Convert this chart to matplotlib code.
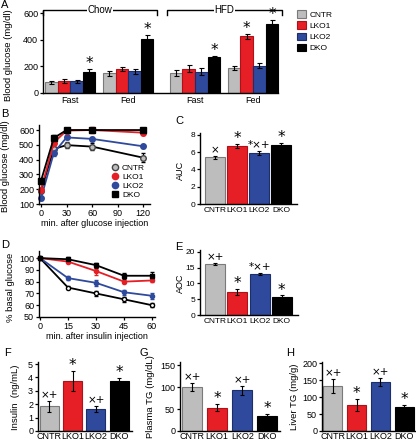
import matplotlib
matplotlib.use("Agg")
import matplotlib.pyplot as plt
from matplotlib.patches import Patch
from matplotlib.lines import Line2D
from matplotlib import font_manager as fm
import numpy as np

plt.rcParams['font.family'] = ['Liberation Sans', 'DejaVu Sans']
names = {f.name for f in fm.fontManager.ttflist}
NARROW = 'Liberation Sans Narrow' if 'Liberation Sans Narrow' in names else 'Liberation Sans'

# ---------------- data ----------------
groups = ["CNTR", "LKO1", "LKO2", "DKO"]
colors = ["#bdbdbd", "#e61e25", "#2f4a9c", "#000000"]
edges = ["#7a7a7a", "#b01018", "#1d2f6a", "#000000"]

# Panel A
a_conditions = ["Fast", "Fed", "Fast", "Fed"]
a_diets = ["Chow", "HFD"]
a_vals = {"CNTR": [80, 148, 148, 190],
          "LKO1": [92, 178, 183, 428],
          "LKO2": [90, 162, 160, 205],
          "DKO": [160, 410, 268, 522]}
a_errs = {"CNTR": [12, 18, 22, 14],
          "LKO1": [14, 15, 28, 18],
          "LKO2": [11, 20, 26, 18],
          "DKO": [18, 25, 14, 28]}
a_stars = {"LKO1": [False, False, False, True],
           "DKO": [True, True, True, True]}
a_ticks = [0, 200, 400, 600]

# Panel B (GTT)
b_time = [0, 15, 30, 60, 120]
b_vals = {"CNTR": [190, 472, 498, 488, 413],
          "LKO1": [198, 515, 596, 600, 582],
          "LKO2": [140, 445, 550, 540, 490],
          "DKO": [258, 546, 600, 600, 600]}
b_errs = {"CNTR": [12, 15, 18, 25, 30],
          "LKO1": [10, 20, 15, 20, 15],
          "LKO2": [10, 20, 12, 10, 12],
          "DKO": [12, 22, 12, 10, 12]}

# Panel C (AUC)
c_vals = [5.4, 6.7, 5.9, 6.8]
c_errs = [0.15, 0.25, 0.2, 0.25]
c_marks = ["×", "*", "*×+", "*"]

# Panel D (ITT)
d_time = [0, 15, 30, 45, 60]
d_vals = {"CNTR": [100, 75, 70, 65, 60],
          "LKO1": [100, 97, 89, 80, 81],
          "LKO2": [100, 83, 79, 71, 68],
          "DKO": [100, 99, 94, 85, 85]}
d_errs = {"CNTR": [0.5, 1.5, 2, 2, 1.5],
          "LKO1": [0.5, 1.5, 3, 1.5, 1.5],
          "LKO2": [0.5, 2, 2.5, 2, 2.5],
          "DKO": [0.5, 1.5, 2, 2.5, 3.5]}

# Panel E (AOC)
e_vals = [16.2, 7.2, 13.0, 5.8]
e_errs = [0.4, 1.0, 0.4, 0.4]
e_marks = ["×+", "*", "*×+", "*"]

# Panel F (insulin)
f_vals = [1.85, 3.7, 1.65, 3.75]
f_errs = [0.4, 0.75, 0.25, 0.2]
f_marks = ["×+", "*", "×+", "*"]

# Panel G (plasma TG)
g_vals = [100, 53, 93, 35]
g_errs = [10, 8, 10, 4]
g_marks = ["×+", "*", "×+", "*"]

# Panel H (liver TG)
h_vals = [133, 77, 145, 70]
h_errs = [22, 18, 12, 6]
h_marks = ["×+", "*", "×+", "*"]

# ---------------- layout ----------------
W, H = 416, 443
fig = plt.figure(figsize=(W / 100, H / 100), dpi=100)


def fx(px):
    return px / W


def fy(py):
    return 1 - py / H


def axpx(l, t, r, b):
    return fig.add_axes([l / W, 1 - b / H, (r - l) / W, (b - t) / H])


def style(ax, fs=6):
    for s in ["top", "right"]:
        ax.spines[s].set_visible(False)
    for s in ["left", "bottom"]:
        ax.spines[s].set_linewidth(1.0)
    ax.tick_params(axis="both", direction="out", length=2.5, width=0.9,
                   labelsize=fs, pad=1)


def plabel(txt, x, y):
    fig.text(fx(x), fy(y), txt, fontsize=8, ha="left", va="center")


def ylab(ax, txt, x, ymid, fs=6.5):
    ax.set_ylabel(txt, fontsize=fs)
    ax.yaxis.set_label_coords(fx(x), fy(ymid), transform=fig.transFigure)


def mark(ax, x, y, txt):
    fs = 11 if txt == "*" else 7.5
    ax.annotate(txt, (x, y), xytext=(0, -1.5 if txt == "*" else 0.5),
                textcoords="offset points", ha="center", va="bottom",
                fontsize=fs, family=["DejaVu Sans"], clip_on=False)


def bar_panel(ax, vals, errs, marks, ylim, yticks, xlim, width, tick_fs=5.8, y_fs=6,
              xpad=2):
    x = np.arange(len(groups))
    ax.bar(x, vals, width=width, color=colors, edgecolor=edges, linewidth=0.8,
           yerr=errs, error_kw=dict(ecolor="black", elinewidth=0.8, capsize=1.5,
                                    capthick=0.8))
    for xi, v, e, m in zip(x, vals, errs, marks):
        mark(ax, xi, v + e, m)
    ax.set_ylim(*ylim)
    ax.set_yticks(yticks)
    ax.set_xlim(*xlim)
    ax.set_xticks(x)
    ax.set_xticklabels(groups, family=[NARROW, "DejaVu Sans"], fontsize=tick_fs)
    style(ax, fs=y_fs)
    ax.tick_params(axis="x", length=0, pad=xpad)


# ---------- Panel A ----------
axA = axpx(43, 11, 282, 93)
centers = [2.0, 6.6, 11.9, 16.5]
for i, g in enumerate(groups):
    xs = [c - 1.5 + i for c in centers]
    axA.bar(xs, a_vals[g], width=1.0, color=colors[i], edgecolor=edges[i],
            linewidth=0.8, yerr=a_errs[g],
            error_kw=dict(ecolor="black", elinewidth=0.8, capsize=1.8, capthick=0.8))
    if g in a_stars:
        for xx, v, e, s in zip(xs, a_vals[g], a_errs[g], a_stars[g]):
            if s:
                mark(axA, xx, v + e, "*")
axA.set_xlim(-0.16, 18.8)
axA.set_ylim(0, 617)
axA.set_yticks(a_ticks)
axA.set_xticks(centers)
axA.set_xticklabels(a_conditions, fontsize=7.5)
style(axA, fs=6.5)
axA.tick_params(axis="x", length=0, pad=2)
axA.spines["bottom"].set_bounds(-0.16, 18.5)
ylab(axA, "Blood glucose (mg/dl)", 13, 55, fs=6.8)

# brackets
for (l, r), name in zip([(43, 157), (167, 282)], a_diets):
    y0, y1 = 10, 15
    fig.add_artist(Line2D([fx(l), fx(l), fx(r), fx(r)], [fy(y1), fy(y0), fy(y0), fy(y1)],
                          transform=fig.transFigure, color="black", lw=1.0))
    fig.text(fx((l + r) / 2), fy(y0), name, ha="center", va="center", fontsize=7,
             bbox=dict(facecolor="white", edgecolor="none", pad=0.3))

handles = [Patch(facecolor=c, edgecolor=e, linewidth=0.8) for c, e in zip(colors, edges)]
fig.legend(handles, groups, loc="upper left", bbox_to_anchor=(fx(294), fy(7)),
           frameon=False, fontsize=6, handlelength=1.0, handleheight=1.0,
           labelspacing=0.3, handletextpad=0.5, borderaxespad=0)
plabel("A", 1, 5)

# ---------- Panel B ----------
axB = axpx(39, 125, 150, 204)
b_style = {"CNTR": dict(color="black", mfc="#bdbdbd", mec="#444444", marker="o"),
           "LKO1": dict(color="#e61e25", mfc="#e61e25", mec="#e61e25", marker="o"),
           "LKO2": dict(color="#2f4a9c", mfc="#2f4a9c", mec="#2f4a9c", marker="o"),
           "DKO": dict(color="black", mfc="black", mec="black", marker="s")}
for g in ["CNTR", "LKO2", "LKO1", "DKO"]:
    st = b_style[g]
    axB.errorbar(b_time, b_vals[g], yerr=b_errs[g], color=st["color"], marker=st["marker"],
                 mfc=st["mfc"], mec=st["mec"], ms=4, lw=1.3, elinewidth=0.8, capsize=1.5,
                 ecolor=st["color"], clip_on=False)
axB.set_xlim(-2.4, 128)
axB.set_ylim(100, 634)
axB.set_yticks([100, 200, 300, 400, 500, 600])
axB.set_xticks([0, 30, 60, 90, 120])
style(axB, fs=6.5)
axB.set_xlabel("min. after glucose injection", fontsize=6.5, labelpad=1)
ylab(axB, "Blood glucose (mg/dl)", 10, 166, fs=6.8)
bh = [Line2D([], [], ls="none", marker=b_style[g]["marker"], mfc=b_style[g]["mfc"],
             mec=b_style[g]["mec"], ms=4.5) for g in groups]
axB.legend(bh, groups, loc="lower right", bbox_to_anchor=(1.0, 0.0), frameon=False,
           fontsize=6, handlelength=0.8, handletextpad=0.4, labelspacing=0.15,
           borderaxespad=0.2)
plabel("B", 1, 114)

# ---------- Panel C ----------
axC = axpx(200, 133, 297, 204)
bar_panel(axC, c_vals, c_errs, c_marks, (0, 8.2), [0, 2, 4, 6, 8], (-0.68, 3.73), 0.9)
ylab(axC, "AUC", 185, 170)
plabel("C", 175, 121)

# ---------- Panel D ----------
axD = axpx(39, 251, 155, 317)
d_style = {"CNTR": dict(color="black", mfc="white", mec="black", marker="o"),
           "LKO1": dict(color="#e61e25", mfc="#e61e25", mec="#e61e25", marker="o"),
           "LKO2": dict(color="#2f4a9c", mfc="#2f4a9c", mec="#2f4a9c", marker="o"),
           "DKO": dict(color="black", mfc="black", mec="black", marker="s")}
for g in ["CNTR", "LKO2", "LKO1", "DKO"]:
    st = d_style[g]
    axD.errorbar(d_time, d_vals[g], yerr=d_errs[g], color=st["color"], marker=st["marker"],
                 mfc=st["mfc"], mec=st["mec"], ms=3, lw=1.3, elinewidth=0.8, capsize=1.5,
                 ecolor=st["color"], clip_on=False)
axD.set_xlim(-0.5, 61.6)
axD.set_ylim(50, 106)
axD.set_yticks([50, 60, 70, 80, 90, 100])
axD.set_xticks([0, 15, 30, 45, 60])
style(axD, fs=6.5)
axD.set_xlabel("min. after insulin injection", fontsize=6.5, labelpad=1)
ylab(axD, "% basal glucose", 15, 287, fs=6.8)
plabel("D", 1, 245)

# ---------- Panel E ----------
axE = axpx(200, 250, 298, 315)
bar_panel(axE, e_vals, e_errs, e_marks, (0, 20.6), [0, 5, 10, 15, 20], (-0.68, 3.73), 0.9)
ylab(axE, "AOC", 185, 283)
plabel("E", 175, 247)

# ---------- Panel F ----------
axF = axpx(38, 362, 132, 431)
bar_panel(axF, f_vals, f_errs, f_marks, (0, 5.15), [0, 1, 2, 3, 4, 5], (-0.49, 3.55), 0.82,
          tick_fs=6.0, y_fs=6.5, xpad=1)
ylab(axF, "Insulin  (ng/mL)", 20, 397, fs=6.8)
plabel("F", 4, 353)

# ---------- Panel G ----------
axG = axpx(180, 362, 280, 431)
bar_panel(axG, g_vals, g_errs, g_marks, (0, 157), [0, 50, 100, 150], (-0.48, 3.5), 0.8,
          tick_fs=6.0, y_fs=6.5, xpad=1)
ylab(axG, "Plasma TG (mg/dL)", 155, 397, fs=6.8)
plabel("G", 139, 353)

# ---------- Panel H ----------
axH = axpx(322, 362, 416, 431)
bar_panel(axH, h_vals, h_errs, h_marks, (0, 204), [0, 50, 100, 150, 200], (-0.46, 3.5), 0.8,
          tick_fs=6.0, y_fs=6.5, xpad=1)
ylab(axH, "Liver TG (mg/g)", 299, 397, fs=6.8)
plabel("H", 286, 353)

fig.savefig("out.png", dpi=100)
